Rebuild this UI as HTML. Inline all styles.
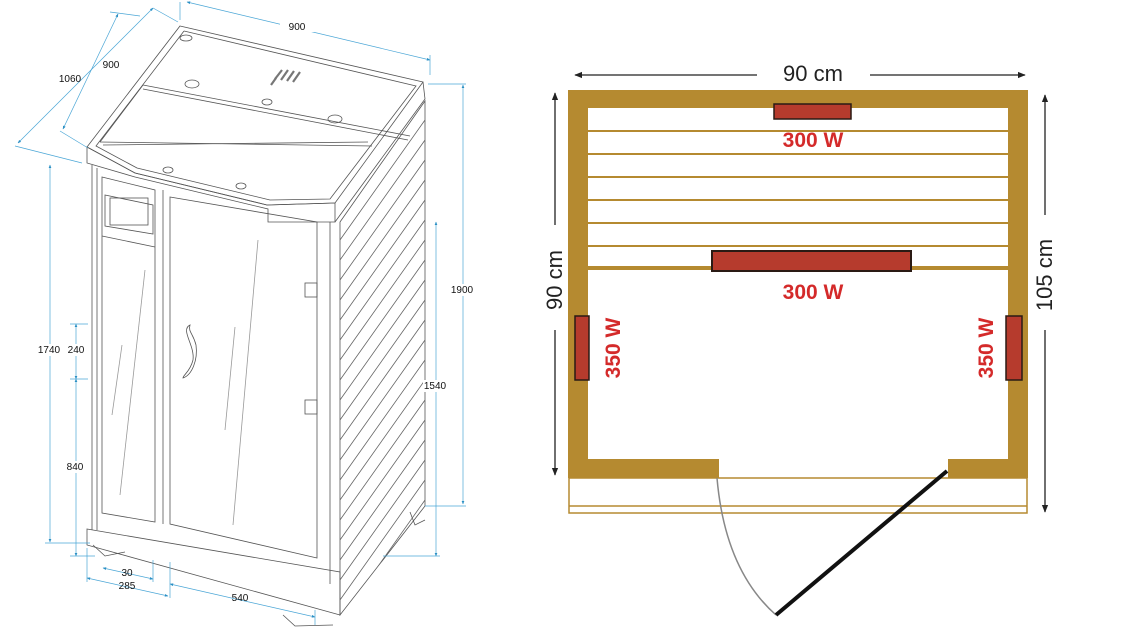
<!DOCTYPE html>
<html><head><meta charset="utf-8"><style>
html,body{margin:0;padding:0;background:#fff;width:1135px;height:641px;overflow:hidden}
svg{display:block}
.d{font-family:"Liberation Sans",sans-serif;font-size:10px;fill:#111;text-anchor:middle}
.r{font-family:"Liberation Sans",sans-serif;font-size:21px;font-weight:bold;fill:#d42a2a;text-anchor:middle}
.k{font-family:"Liberation Sans",sans-serif;font-size:22px;fill:#222;text-anchor:middle}
</style></head><body>
<svg width="1135" height="641" viewBox="0 0 1135 641" xmlns="http://www.w3.org/2000/svg">
<defs>
<marker id="ab" viewBox="0 0 10 10" refX="9" refY="5" markerWidth="5" markerHeight="5" orient="auto-start-reverse"><path d="M0,1 L10,5 L0,9z" fill="#2a8fc4"/></marker>
<marker id="ak" viewBox="0 0 10 10" refX="9" refY="5" markerWidth="6" markerHeight="6" orient="auto-start-reverse"><path d="M0,1 L10,5 L0,9z" fill="#222"/></marker>
<clipPath id="rf"><polygon points="340,222 425,101 425,506 340,615"/></clipPath>
</defs>

<!-- LEFT CABIN -->
<g fill="none" stroke="#555" stroke-width="0.8">
 <polygon points="180,26 423,82 335,203 267,205 135,173 87,147" fill="#fff"/>
 <polygon points="87,147 135,173 267,205 335,203 335,222 268,222 268,209 135,177 87,163"/>
 <polyline points="423,82 425,99 335,222"/>
 <polyline points="184,31 416,86 330,199 270,200 137,168 96,146 184,31"/>
 <line x1="143" y1="85" x2="410" y2="136"/>
 <line x1="143" y1="89" x2="408" y2="140"/>
 <line x1="100" y1="142" x2="372" y2="146"/>
 <line x1="143" y1="85" x2="100" y2="142"/>
 <line x1="103" y1="145" x2="368" y2="142"/>
 <ellipse cx="186" cy="38" rx="6" ry="3"/>
 <ellipse cx="192" cy="84" rx="7" ry="4"/>
 <ellipse cx="267" cy="102" rx="5" ry="3"/>
 <ellipse cx="335" cy="119" rx="7" ry="4"/>
 <ellipse cx="168" cy="170" rx="5" ry="3"/>
 <ellipse cx="241" cy="186" rx="5" ry="3"/>
 <g stroke-width="2.2" stroke="#777"><line x1="276" y1="78" x2="271" y2="85"/><line x1="282" y1="70" x2="275" y2="79"/><line x1="288" y1="70" x2="281" y2="80"/><line x1="294" y1="71" x2="287" y2="81"/><line x1="300" y1="72" x2="293" y2="82"/></g>
 <polyline points="92,165 92,530"/>
 <polyline points="97,168 97,530"/>
 <polygon points="87,529 340,572 340,615 87,545"/>
 <polygon points="340,222 425,101 425,506 340,615"/>
 <line x1="330" y1="222" x2="330" y2="584"/>
 <polygon points="102,177 155,190 155,522 102,513"/>
 <polygon points="105,195 153,205 153,234 105,226"/>
 <rect x="110" y="198" width="38" height="27"/>
 <line x1="102" y1="236" x2="155" y2="247"/>
 <polygon points="170,197 317,222 317,558 170,524"/>
 <line x1="163" y1="190" x2="163" y2="524"/>
 <line x1="145" y1="270" x2="120" y2="495" stroke="#999"/>
 <line x1="122" y1="345" x2="112" y2="415" stroke="#999"/>
 <line x1="258" y1="240" x2="233" y2="525" stroke="#999"/>
 <line x1="235" y1="327" x2="225" y2="430" stroke="#999"/>
 <path d="M190,325 C180,330 195,345 193,360 C190,372 183,375 183,378 C192,375 198,360 196,345 C193,333 188,332 190,325z"/>
 <rect x="305" y="283" width="12" height="14"/>
 <rect x="305" y="400" width="12" height="14"/>
 <polyline points="93,545 105,556 125,552"/>
 <polyline points="283,615 295,626 333,625"/>
 <polyline points="410,512 415,525 425,520"/>
 <g clip-path="url(#rf)" stroke="#666" stroke-width="0.8">
  <path d="M340,140 L425,20 M340,160 L425,40 M340,180 L425,60 M340,200 L425,80 M340,220 L425,100 M340,240 L425,120 M340,260 L425,140 M340,280 L425,160 M340,300 L425,180 M340,320 L425,200 M340,340 L425,220 M340,360 L425,240 M340,380 L425,260 M340,400 L425,280 M340,420 L425,300 M340,440 L425,320 M340,460 L425,340 M340,480 L425,360 M340,500 L425,380 M340,520 L425,400 M340,540 L425,420 M340,560 L425,440 M340,580 L425,460 M340,600 L425,480 M340,620 L425,500 M340,640 L425,520"/>
 </g>
</g>

<g stroke="#4aa6d6" stroke-width="0.7" fill="none">
 <line x1="187" y1="2" x2="430" y2="60" marker-start="url(#ab)" marker-end="url(#ab)"/>
 <line x1="180" y1="20" x2="180" y2="2"/>
 <line x1="430" y1="75" x2="430" y2="55"/>
 <line x1="118" y1="14" x2="63" y2="129" marker-start="url(#ab)" marker-end="url(#ab)"/>
 <line x1="153" y1="8" x2="18" y2="143" marker-start="url(#ab)" marker-end="url(#ab)"/>
 <line x1="110" y1="12" x2="140" y2="16"/>
 <line x1="153" y1="8" x2="178" y2="22"/>
 <line x1="15" y1="146" x2="82" y2="163"/>
 <line x1="60" y1="131" x2="88" y2="148"/>
 <line x1="50" y1="165" x2="50" y2="542" marker-start="url(#ab)" marker-end="url(#ab)"/>
 <line x1="45" y1="543" x2="90" y2="543"/>
 <line x1="76" y1="324" x2="76" y2="379" marker-start="url(#ab)" marker-end="url(#ab)"/>
 <line x1="76" y1="379" x2="76" y2="556" marker-start="url(#ab)" marker-end="url(#ab)"/>
 <line x1="70" y1="324" x2="88" y2="324"/>
 <line x1="70" y1="379" x2="88" y2="379"/>
 <line x1="70" y1="556" x2="95" y2="556"/>
 <line x1="463" y1="85" x2="463" y2="504" marker-start="url(#ab)" marker-end="url(#ab)"/>
 <line x1="428" y1="84" x2="466" y2="84"/>
 <line x1="425" y1="506" x2="466" y2="506"/>
 <line x1="436" y1="222" x2="436" y2="556" marker-start="url(#ab)" marker-end="url(#ab)"/>
 <line x1="383" y1="556" x2="440" y2="556"/>
 <line x1="103" y1="568" x2="153" y2="579" marker-start="url(#ab)" marker-end="url(#ab)"/>
 <line x1="87" y1="578" x2="168" y2="596" marker-start="url(#ab)" marker-end="url(#ab)"/>
 <line x1="170" y1="584" x2="315" y2="617" marker-start="url(#ab)" marker-end="url(#ab)"/>
 <line x1="87" y1="548" x2="87" y2="582"/>
 <line x1="153" y1="560" x2="153" y2="582"/>
 <line x1="170" y1="562" x2="170" y2="598"/>
 <line x1="315" y1="610" x2="315" y2="625"/>
</g>
<g>
 <rect x="280" y="21" width="34" height="11" fill="#fff"/>
 <text class="d" x="297" y="30">900</text>
 <text class="d" x="111" y="68">900</text>
 <text class="d" x="70" y="82">1060</text>
 <rect x="36" y="344" width="26" height="12" fill="#fff"/>
 <text class="d" x="49" y="353">1740</text>
 <rect x="66" y="344" width="20" height="12" fill="#fff"/>
 <text class="d" x="76" y="353">240</text>
 <rect x="66" y="461" width="20" height="12" fill="#fff"/>
 <text class="d" x="75" y="470">840</text>
 <rect x="450" y="284" width="26" height="12" fill="#fff"/>
 <text class="d" x="462" y="293">1900</text>
 <rect x="423" y="380" width="26" height="12" fill="#fff"/>
 <text class="d" x="435" y="389">1540</text>
 <text class="d" x="127" y="576">30</text>
 <text class="d" x="127" y="589">285</text>
 <text class="d" x="240" y="601">540</text>
</g>

<!-- RIGHT PLAN -->
<g>
 <rect x="568" y="90" width="460" height="18" fill="#b58a30"/>
 <rect x="568" y="90" width="20" height="388" fill="#b58a30"/>
 <rect x="1008" y="90" width="20" height="388" fill="#b58a30"/>
 <rect x="568" y="459" width="151" height="19" fill="#b58a30"/>
 <rect x="948" y="459" width="80" height="19" fill="#b58a30"/>
 <rect x="569" y="478" width="458" height="35" fill="#fff" stroke="#b58a30" stroke-width="1.5"/>
 <line x1="569" y1="506" x2="1027" y2="506" stroke="#b58a30" stroke-width="1.5"/>
 <g stroke="#b58a30" stroke-width="2">
  <line x1="588" y1="131" x2="1008" y2="131"/>
  <line x1="588" y1="154" x2="1008" y2="154"/>
  <line x1="588" y1="177" x2="1008" y2="177"/>
  <line x1="588" y1="200" x2="1008" y2="200"/>
  <line x1="588" y1="223" x2="1008" y2="223"/>
  <line x1="588" y1="246" x2="1008" y2="246"/>
 </g>
 <rect x="588" y="266" width="420" height="4" fill="#b58a30"/>
 <rect x="774" y="104" width="77" height="15" fill="#b63b2d" stroke="#2a1a14" stroke-width="1.5"/>
 <rect x="712" y="251" width="199" height="20" fill="#b63b2d" stroke="#2a1a14" stroke-width="2"/>
 <rect x="575" y="316" width="14" height="64" fill="#b63b2d" stroke="#2a1a14" stroke-width="1.5"/>
 <rect x="1006" y="316" width="16" height="64" fill="#b63b2d" stroke="#2a1a14" stroke-width="1.5"/>
 <text class="r" x="813" y="147">300 W</text>
 <text class="r" x="813" y="299">300 W</text>
 <text class="r" transform="translate(620,348) rotate(-90)">350 W</text>
 <text class="r" transform="translate(993,348) rotate(-90)">350 W</text>
 <path d="M717,478 Q725,570 776,615" fill="none" stroke="#888" stroke-width="1.5"/>
 <line x1="947" y1="471" x2="776" y2="615" stroke="#111" stroke-width="4"/>
 <g stroke="#222" stroke-width="1.3">
  <line x1="575" y1="75" x2="757" y2="75" marker-start="url(#ak)"/>
  <line x1="870" y1="75" x2="1025" y2="75" marker-end="url(#ak)"/>
  <line x1="555" y1="93" x2="555" y2="225" marker-start="url(#ak)"/>
  <line x1="555" y1="330" x2="555" y2="475" marker-end="url(#ak)"/>
  <line x1="1045" y1="95" x2="1045" y2="215" marker-start="url(#ak)"/>
  <line x1="1045" y1="330" x2="1045" y2="512" marker-end="url(#ak)"/>
 </g>
 <text class="k" x="813" y="81">90 cm</text>
 <text class="k" transform="translate(562,280) rotate(-90)">90 cm</text>
 <text class="k" transform="translate(1052,275) rotate(-90)">105 cm</text>
</g>
</svg>
</body></html>
